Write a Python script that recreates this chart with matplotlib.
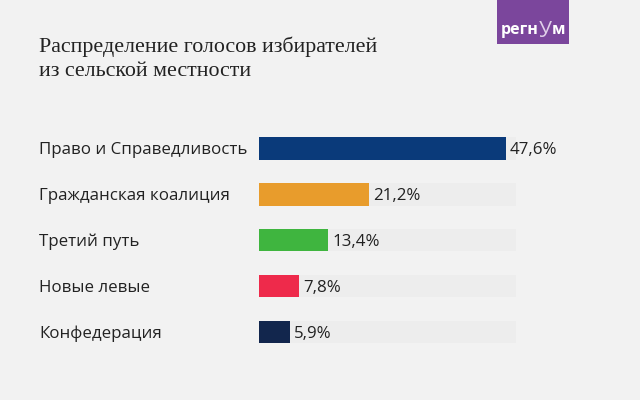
import matplotlib
matplotlib.use("Agg")
import matplotlib.pyplot as plt
from matplotlib.transforms import blended_transform_factory

parties = ["Право и Справедливость", "Гражданская коалиция", "Третий путь", "Новые левые", "Конфедерация"]
shares = [47.6, 21.2, 13.4, 7.8, 5.9]
labels = ["47,6%", "21,2%", "13,4%", "7,8%", "5,9%"]
colors = ["#0a3a7a", "#e89c2c", "#3fb53f", "#ee2a4b", "#12264d"]
full_scale = 49.6

bg = "#f2f2f2"
fig = plt.figure(figsize=(6.4, 4.0), dpi=100, facecolor=bg)
ax = fig.add_axes([259 / 640, 1 - 355 / 400, (516 - 259) / 640, (355 - 125.5) / 400])
ax.set_facecolor(bg)

ypos = list(range(len(parties)))
ax.barh(ypos, [full_scale] * len(parties), height=0.49, color="#ededed")
ax.barh(ypos, shares, height=0.49, color=colors)
ax.set_xlim(0, full_scale)
ax.set_ylim(len(parties) - 0.5, -0.5)
ax.axis("off")

name_tr = blended_transform_factory(fig.transFigure, ax.transData)
for y, name, val, lab in zip(ypos, parties, shares, labels):
    ax.text(39 / 640, y, name, transform=name_tr, va="center_baseline", ha="left",
            fontsize=12.2, family="Open Sans", color="#222222")
    ax.annotate(lab, (val, y), xytext=(4, 0), textcoords="offset pixels", va="center_baseline", ha="left",
                fontsize=12.2, family="Open Sans", color="#222222")

fig.text(39 / 640, 1 - 47 / 400, "Распределение голосов избирателей", fontsize=15.8, family="Liberation Serif",
         va="center", color="#222222")
fig.text(39 / 640, 1 - 72 / 400, "из сельской местности", fontsize=15.8, family="Liberation Serif",
         va="center", color="#222222")

# логотип
logo = fig.add_axes([497 / 640, 1 - 44 / 400, 72 / 640, 44 / 400])
logo.set_facecolor("#7b469c")
logo.set_xticks([])
logo.set_yticks([])
for s in logo.spines.values():
    s.set_visible(False)
logo.text(0.05, 0.31, "регн", color="white", fontsize=11.5, fontweight="bold", family="Open Sans",
          ha="left", va="center", transform=logo.transAxes)
logo.text(0.58, 0.29, "У", color="#e0cfe9", fontsize=15, family="Open Sans",
          ha="left", va="center", transform=logo.transAxes)
logo.text(0.76, 0.31, "м", color="white", fontsize=11.5, fontweight="bold", family="Open Sans",
          ha="left", va="center", transform=logo.transAxes)

fig.savefig("out.png", dpi=100, facecolor=bg)
